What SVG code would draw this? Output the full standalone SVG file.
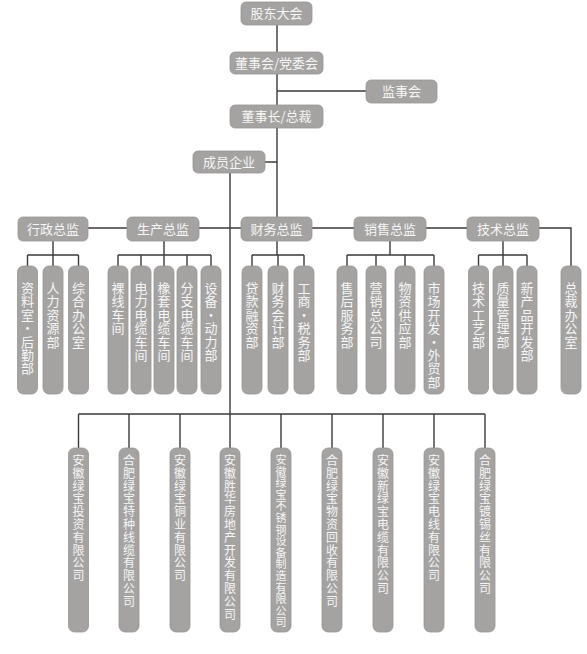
<svg xmlns="http://www.w3.org/2000/svg" width="587" height="654" viewBox="0 0 587 654">
<style>
.b{fill:#a5a3a2;stroke:#989695;stroke-width:0.8}
.t{font-family:"Noto Sans CJK SC","Noto Sans",sans-serif;font-size:13px;fill:#f6f6f6;text-anchor:middle}
.s{font-size:12px}
.xs{font-size:11px}
.l{stroke:#3a3a3a;stroke-width:1.4;fill:none}
</style>
<rect width="587" height="654" fill="#ffffff"/>
<g id="connectors" class="l">
<path d="M277,25V217M277,91H366M265,162H277M230,173V448"/>
<path d="M88,228H127M199,228H241M312,228H354M426,228H467M539,228H571V266"/>
<path d="M53,241V255M27.5,255H78.5M27.5,255V266M53,255V266M78.5,255V266"/>
<path d="M164,241V255M118,255H211M118,255V266M141,255V266M164,255V266M187,255V266M211,255V266"/>
<path d="M277,241V255M252,255H304M252,255V266M278,255V266M304,255V266"/>
<path d="M390,241V255M347,255H434M347,255V266M376,255V266M405,255V266M434,255V266"/>
<path d="M503,241V255M478.5,255H527M478.5,255V266M503,255V266M527,255V266"/>
<path d="M78.5,414H485M78.5,414V448M129,414V448M180,414V448M281,414V448M332,414V448M383,414V448M434,414V448M485,414V448"/>
</g>
<g id="n-gudong"><rect class="b" x="241" y="2" width="71" height="23" rx="5"/><text class="t" x="276.5" y="18">股东大会</text></g>
<g id="n-dongshihui"><rect class="b" x="230" y="52" width="93" height="22" rx="5"/><text class="t" x="276.5" y="67.5">董事会/党委会</text></g>
<g id="n-jianshihui"><rect class="b" x="366" y="80" width="71" height="23" rx="5"/><text class="t" x="401.5" y="96">监事会</text></g>
<g id="n-dongshizhang"><rect class="b" x="230" y="105" width="93" height="23" rx="5"/><text class="t" x="276.5" y="121">董事长/总裁</text></g>
<g id="n-chengyuan"><rect class="b" x="193" y="151" width="72" height="22" rx="5"/><text class="t" x="229" y="166.5">成员企业</text></g>

<g id="n-xingzheng"><rect class="b" x="18" y="217" width="70" height="24" rx="5"/><text class="t" x="53" y="233.5">行政总监</text></g>
<g id="n-shengchan"><rect class="b" x="127" y="217" width="72" height="24" rx="5"/><text class="t" x="163" y="233.5">生产总监</text></g>
<g id="n-caiwu"><rect class="b" x="241" y="217" width="71" height="24" rx="5"/><text class="t" x="276.5" y="233.5">财务总监</text></g>
<g id="n-xiaoshou"><rect class="b" x="354" y="217" width="72" height="24" rx="5"/><text class="t" x="390" y="233.5">销售总监</text></g>
<g id="n-jishu"><rect class="b" x="467" y="217" width="72" height="24" rx="5"/><text class="t" x="503" y="233.5">技术总监</text></g>

<g id="d1"><rect class="b" x="17.5" y="266" width="20" height="128" rx="6"/><text class="t" x="27.5 27.5 27.5 27.5 27.5 27.5 27.5" y="293 306.4 319.8 333.2 346.6 360 373.4">资料室•后勤部</text></g>
<g id="d2"><rect class="b" x="43" y="266" width="20" height="128" rx="6"/><text class="t" x="53 53 53 53 53" y="293 306.4 319.8 333.2 346.6">人力资源部</text></g>
<g id="d3"><rect class="b" x="68.5" y="266" width="20" height="128" rx="6"/><text class="t" x="78.5 78.5 78.5 78.5 78.5" y="293 306.4 319.8 333.2 346.6">综合办公室</text></g>

<g id="d4"><rect class="b" x="108" y="266" width="20" height="128" rx="6"/><text class="t" x="118 118 118 118" y="293 306.4 319.8 333.2">裸线车间</text></g>
<g id="d5"><rect class="b" x="131" y="266" width="20" height="128" rx="6"/><text class="t" x="141 141 141 141 141 141" y="293 306.4 319.8 333.2 346.6 360">电力电缆车间</text></g>
<g id="d6"><rect class="b" x="154" y="266" width="20" height="128" rx="6"/><text class="t" x="164 164 164 164 164 164" y="293 306.4 319.8 333.2 346.6 360">橡套电缆车间</text></g>
<g id="d7"><rect class="b" x="177" y="266" width="20" height="128" rx="6"/><text class="t" x="187 187 187 187 187 187" y="293 306.4 319.8 333.2 346.6 360">分支电缆车间</text></g>
<g id="d8"><rect class="b" x="201" y="266" width="20" height="128" rx="6"/><text class="t" x="211 211 211 211 211 211" y="293 306.4 319.8 333.2 346.6 360">设备•动力部</text></g>

<g id="d9"><rect class="b" x="242" y="266" width="20" height="128" rx="6"/><text class="t" x="252 252 252 252 252" y="293 306.4 319.8 333.2 346.6">贷款融资部</text></g>
<g id="d10"><rect class="b" x="268" y="266" width="20" height="128" rx="6"/><text class="t" x="278 278 278 278 278" y="293 306.4 319.8 333.2 346.6">财务会计部</text></g>
<g id="d11"><rect class="b" x="294" y="266" width="20" height="128" rx="6"/><text class="t" x="304 304 304 304 304 304" y="293 306.4 319.8 333.2 346.6 360">工商•税务部</text></g>

<g id="d12"><rect class="b" x="337" y="266" width="20" height="128" rx="6"/><text class="t" x="347 347 347 347 347" y="293 306.4 319.8 333.2 346.6">售后服务部</text></g>
<g id="d13"><rect class="b" x="366" y="266" width="20" height="128" rx="6"/><text class="t" x="376 376 376 376 376" y="293 306.4 319.8 333.2 346.6">营销总公司</text></g>
<g id="d14"><rect class="b" x="395" y="266" width="20" height="128" rx="6"/><text class="t" x="405 405 405 405 405" y="293 306.4 319.8 333.2 346.6">物资供应部</text></g>
<g id="d15"><rect class="b" x="424" y="266" width="20" height="128" rx="6"/><text class="t" x="434 434 434 434 434 434 434 434" y="293 306.4 319.8 333.2 346.6 360 373.4 386.8">市场开发•外贸部</text></g>

<g id="d16"><rect class="b" x="468.5" y="266" width="20" height="128" rx="6"/><text class="t" x="478.5 478.5 478.5 478.5 478.5" y="293 306.4 319.8 333.2 346.6">技术工艺部</text></g>
<g id="d17"><rect class="b" x="493" y="266" width="20" height="128" rx="6"/><text class="t" x="503 503 503 503 503" y="293 306.4 319.8 333.2 346.6">质量管理部</text></g>
<g id="d18"><rect class="b" x="517" y="266" width="20" height="128" rx="6"/><text class="t" x="527 527 527 527 527 527" y="293 306.4 319.8 333.2 346.6 360">新产品开发部</text></g>
<g id="d19"><rect class="b" x="561" y="266" width="20" height="128" rx="6"/><text class="t" x="571 571 571 571 571" y="293 306.4 319.8 333.2 346.6">总裁办公室</text></g>

<g id="c1"><rect class="b" x="68.5" y="448" width="20" height="184" rx="6"/><text class="t s" x="78.5 78.5 78.5 78.5 78.5 78.5 78.5 78.5 78.5 78.5" y="465 477.8 490.6 503.4 516.2 529 541.8 554.6 567.4 580.2">安徽绿宝投资有限公司</text></g>
<g id="c2"><rect class="b" x="119" y="448" width="20" height="184" rx="6"/><text class="t s" x="129 129 129 129 129 129 129 129 129 129 129 129" y="465 477.8 490.6 503.4 516.2 529 541.8 554.6 567.4 580.2 593 605.8">合肥绿宝特种线缆有限公司</text></g>
<g id="c3"><rect class="b" x="170" y="448" width="20" height="184" rx="6"/><text class="t s" x="180 180 180 180 180 180 180 180 180 180" y="465 477.8 490.6 503.4 516.2 529 541.8 554.6 567.4 580.2">安徽绿宝铜业有限公司</text></g>
<g id="c4"><rect class="b" x="220" y="448" width="20" height="184" rx="6"/><text class="t s" x="230 230 230 230 230 230 230 230 230 230 230 230 230" y="465 477.8 490.6 503.4 516.2 529 541.8 554.6 567.4 580.2 593 605.8 618.6">安徽胜华房地产开发有限公司</text></g>
<g id="c5"><rect class="b" x="271" y="448" width="20" height="184" rx="6"/><text class="t xs" x="281 281 281 281 281 281 281 281 281 281 281 281 281 281 281" y="464 475.6 487.2 498.8 510.4 522 533.6 545.2 556.8 568.4 580 591.6 603.2 614.8 626.4">安徽绿宝不锈钢设备制造有限公司</text></g>
<g id="c6"><rect class="b" x="322" y="448" width="20" height="184" rx="6"/><text class="t s" x="332 332 332 332 332 332 332 332 332 332 332 332" y="465 477.8 490.6 503.4 516.2 529 541.8 554.6 567.4 580.2 593 605.8">合肥绿宝物资回收有限公司</text></g>
<g id="c7"><rect class="b" x="373" y="448" width="20" height="184" rx="6"/><text class="t s" x="383 383 383 383 383 383 383 383 383 383 383" y="465 477.8 490.6 503.4 516.2 529 541.8 554.6 567.4 580.2 593">安徽新绿宝电缆有限公司</text></g>
<g id="c8"><rect class="b" x="424" y="448" width="20" height="184" rx="6"/><text class="t s" x="434 434 434 434 434 434 434 434 434 434" y="465 477.8 490.6 503.4 516.2 529 541.8 554.6 567.4 580.2">安徽绿宝电线有限公司</text></g>
<g id="c9"><rect class="b" x="475" y="448" width="20" height="184" rx="6"/><text class="t s" x="485 485 485 485 485 485 485 485 485 485 485" y="465 477.8 490.6 503.4 516.2 529 541.8 554.6 567.4 580.2 593">合肥绿宝镀锡丝有限公司</text></g>
</svg>
